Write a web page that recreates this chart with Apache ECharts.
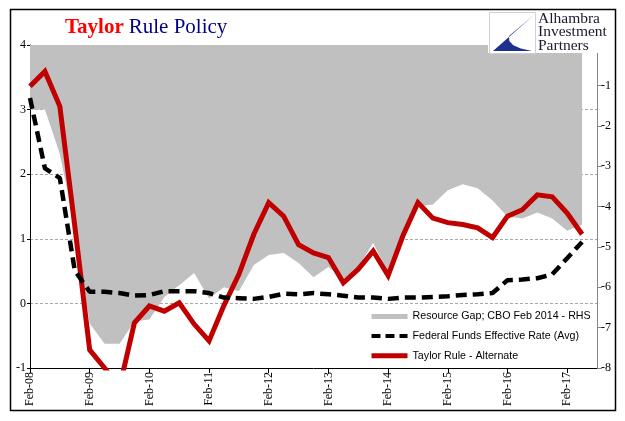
<!DOCTYPE html>
<html>
<head>
<meta charset="utf-8">
<script src="https://cdn.jsdelivr.net/npm/echarts@6/dist/echarts.min.js"></script>
<style>
html,body{margin:0;padding:0;background:#fff;}
#chart{width:625px;height:421px;}
</style>
</head>
<body>
<div id="chart"></div>
<script>
// Quarterly categories (Q1 2008 .. Q3 2017)
const categories = [
  'Feb-08','May-08','Aug-08','Nov-08',
  'Feb-09','May-09','Aug-09','Nov-09',
  'Feb-10','May-10','Aug-10','Nov-10',
  'Feb-11','May-11','Aug-11','Nov-11',
  'Feb-12','May-12','Aug-12','Nov-12',
  'Feb-13','May-13','Aug-13','Nov-13',
  'Feb-14','May-14','Aug-14','Nov-14',
  'Feb-15','May-15','Aug-15','Nov-15',
  'Feb-16','May-16','Aug-16','Nov-16',
  'Feb-17','May-17','Aug-17'
];

// Resource gap (CBO Feb 2014), right axis
const resourceGap = [
  -1.6, -1.6, -2.7, -4.5,
  -6.9, -7.4, -7.4, -6.85,
  -6.8, -6.24, -5.95, -5.65,
  -6.28, -6.0, -6.1, -5.45,
  -5.2, -5.15, -5.4, -5.75,
  -5.5, -5.8, -5.5, -4.9,
  -5.65, -4.8, -4.0, -3.95,
  -3.6, -3.45, -3.55, -3.85,
  -4.25, -4.3, -4.15, -4.3,
  -4.6, -4.45
];

// Federal Funds Effective Rate (quarterly avg), left axis
const fedFunds = [
  3.18, 2.09, 1.94, 0.51,
  0.18, 0.18, 0.16, 0.12,
  0.13, 0.19, 0.19, 0.19,
  0.16, 0.09, 0.08, 0.07,
  0.10, 0.15, 0.14, 0.16,
  0.14, 0.12, 0.09, 0.09,
  0.07, 0.09, 0.09, 0.10,
  0.11, 0.13, 0.14, 0.16,
  0.36, 0.37, 0.39, 0.45,
  0.70, 0.95
];

// Taylor Rule - Alternate, left axis
const taylorRule = [
  3.36, 3.59, 3.05, 1.2,
  -0.72, -1.0, -1.3, -0.30,
  -0.04, -0.12, 0.01, -0.32,
  -0.58, -0.03, 0.45, 1.07,
  1.56, 1.35, 0.91, 0.78,
  0.71, 0.32, 0.53, 0.81,
  0.43, 1.05, 1.56, 1.32,
  1.25, 1.22, 1.17, 1.02,
  1.35, 1.45, 1.68, 1.65,
  1.40, 1.07
];

const leftTicks = {min: -1, max: 4, interval: 1};
const rightTicks = {min: -8, max: 0, interval: 1};

const names = {
  gap: 'Resource Gap; CBO Feb 2014 - RHS',
  ff: 'Federal Funds Effective Rate (Avg)',
  tr: 'Taylor Rule - Alternate'
};

const chart = echarts.init(document.getElementById('chart'), null, {renderer: 'canvas'});
const serif = 'Liberation Serif';
const hiddenSymbol = {color: 'rgba(0,0,0,0)', borderColor: 'rgba(0,0,0,0)', borderWidth: 0, opacity: 0};

chart.setOption({
  animation: false,
  backgroundColor: '#fff',
  title: {
    left: 60, top: 12,
    text: '{a|Taylor} {b|Rule Policy}',
    textStyle: {
      rich: {
        a: {fontFamily: serif, fontSize: 21, fontWeight: 'bold', color: '#ff0000'},
        b: {fontFamily: serif, fontSize: 21, fontWeight: 'normal', color: '#00008b'}
      }
    }
  },
  grid: {left: 30, right: 28, top: 45, bottom: 53, containLabel: false},
  legend: {
    orient: 'vertical',
    left: 364, top: 306,
    itemWidth: 36, itemHeight: 14, itemGap: 8.5,
    textStyle: {fontFamily: 'Liberation Sans', fontSize: 10.7, color: '#000'},
    selectedMode: false,
    data: [
      {name: names.gap, icon: 'path://M0,0H36V5H0Z', itemStyle: {color: '#c0c0c0'}},
      {name: names.ff, itemStyle: hiddenSymbol, lineStyle: {width: 4, type: [9, 5], color: '#000'}},
      {name: names.tr, itemStyle: hiddenSymbol, lineStyle: {width: 5, color: '#c00000'}}
    ]
  },
  xAxis: {
    type: 'category',
    data: categories,
    boundaryGap: false,
    axisLine: {onZero: false, lineStyle: {color: '#000', width: 1}},
    axisTick: {show: true, interval: 3, length: 5, lineStyle: {color: '#000'}},
    axisLabel: {interval: 3, rotate: 90, fontFamily: serif, fontSize: 12, color: '#000', margin: 4},
    splitLine: {show: false}
  },
  yAxis: [
    {
      type: 'value', position: 'left',
      min: leftTicks.min, max: leftTicks.max, interval: leftTicks.interval,
      axisLine: {show: true, lineStyle: {color: '#000'}},
      axisTick: {show: true, length: 3, lineStyle: {color: '#000'}},
      axisLabel: {fontFamily: serif, fontSize: 12, color: '#000', margin: 4},
      splitLine: {show: true, lineStyle: {color: '#a6a6a6', type: [3, 2], width: 1}}
    },
    {
      type: 'value', position: 'right',
      min: rightTicks.min, max: rightTicks.max, interval: rightTicks.interval,
      axisLine: {show: true, lineStyle: {color: '#868686'}},
      axisTick: {show: true, length: 5, lineStyle: {color: '#868686'}},
      axisLabel: {fontFamily: serif, fontSize: 12, color: '#000', margin: 4,
        formatter: v => (v === 0 ? '' : String(v))},
      splitLine: {show: false}
    }
  ],
  series: [
    {
      name: names.gap, type: 'line', yAxisIndex: 1,
      data: resourceGap,
      symbol: 'none',
      itemStyle: {color: '#c0c0c0'},
      lineStyle: {width: 0, color: '#c0c0c0'},
      areaStyle: {color: '#c0c0c0', opacity: 1, origin: 'end'},
      z: 1
    },
    {
      name: names.tr, type: 'line', yAxisIndex: 0,
      data: taylorRule,
      symbol: 'none',
      itemStyle: {color: '#c00000'},
      lineStyle: {width: 5, color: '#c00000', join: 'miter'},
      z: 3
    },
    {
      name: names.ff, type: 'line', yAxisIndex: 0,
      data: fedFunds,
      symbol: 'none',
      itemStyle: {color: '#000'},
      lineStyle: {width: 4.5, color: '#000', type: [11, 6]},
      z: 4
    }
  ],
  graphic: [
    {type: 'rect', z: 100, silent: true,
      shape: {x: 10.5, y: 9.5, width: 605, height: 401},
      style: {fill: null, stroke: '#000', lineWidth: 1.5}},
    {type: 'rect', z: 90, silent: true,
      shape: {x: 488, y: 11, width: 126, height: 42},
      style: {fill: '#fff', stroke: null}},
    {type: 'rect', z: 91, silent: true,
      shape: {x: 489.5, y: 12.5, width: 46, height: 41},
      style: {fill: '#fff', stroke: '#d0d0d0', lineWidth: 1}},
    {type: 'polygon', z: 92, silent: true,
      shape: {points: [[534,15],[493,51],[532,51],[520.8,48.6],[513.3,45.3],[509.3,41.1],[509,36]]},
      style: {fill: '#1f2f8f'}},
    {type: 'text', z: 92, silent: true, x: 538, y: 12,
      style: {text: 'Alhambra\nInvestment\nPartners', fontFamily: serif, fontSize: 15.5,
        lineHeight: 13.5, fill: '#1a1a2e'}}
  ]
});
</script>
</body>
</html>
